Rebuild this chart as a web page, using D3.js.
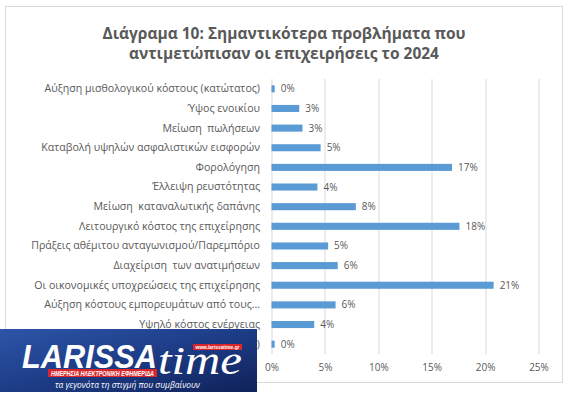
<!DOCTYPE html>
<html>
<head>
<meta charset="utf-8">
<script src="https://cdn.jsdelivr.net/npm/d3@7"></script>
<style>
  html, body { margin: 0; padding: 0; background: #fff; }
  svg { display: block; }
</style>
</head>
<body>
<div id="chart"></div>
<script>
// data (percent)
const categories = [
  'Αύξηση μισθολογικού κόστους (κατώτατος)',
  'Ύψος ενοικίου',
  'Μείωση  πωλήσεων',
  'Καταβολή υψηλών ασφαλιστικών εισφορών',
  'Φορολόγηση',
  'Έλλειψη ρευστότητας',
  'Μείωση  καταναλωτικής δαπάνης',
  'Λειτουργικό κόστος της επιχείρησης',
  'Πράξεις αθέμιτου ανταγωνισμού/Παρεμπόριο',
  'Διαχείριση  των ανατιμήσεων',
  'Οι οικονομικές υποχρεώσεις της επιχείρησης',
  'Αύξηση κόστους εμπορευμάτων από τους…',
  'Υψηλό κόστος ενέργειας',
  'Άλλο (διευκρινίστε)'
];
const values = [0.3, 2.6, 2.9, 4.6, 16.9, 4.3, 7.9, 17.6, 5.3, 6.2, 20.8, 6.0, 4.0, 0.3];
const xTicks = [0, 5, 10, 15, 20, 25];
const titleLines = ['Διάγραμα 10: Σημαντικότερα προβλήματα που', 'αντιμετώπισαν οι επιχειρήσεις το 2024'];

const W = 569, H = 397;
const margin = { top: 79, right: 30, bottom: 43, left: 271.5 };
const width = 538.5 - margin.left;
const height = 354 - margin.top;
const textColor = '#595959';
const font = "'Open Sans', sans-serif";

const svg = d3.select('#chart').append('svg')
  .attr('width', W)
  .attr('height', H);

svg.append('rect').attr('width', W).attr('height', H).attr('fill', '#fff');

// chart frame
svg.append('rect')
  .attr('x', 5.5).attr('y', 6.5)
  .attr('width', 557).attr('height', 376)
  .attr('fill', 'none')
  .attr('stroke', '#d9d9d9');

// title
svg.append('g')
  .selectAll('text')
  .data(titleLines)
  .join('text')
    .attr('x', 284)
    .attr('y', (d, i) => 39 + i * 20)
    .attr('text-anchor', 'middle')
    .attr('fill', textColor)
    .style('font-family', font)
    .style('font-size', '15.5px')
    .style('font-weight', 'bold')
    .text(d => d);

const g = svg.append('g')
  .attr('transform', `translate(${margin.left},${margin.top})`);

const x = d3.scaleLinear().domain([0, 25]).range([0, width]);
const y = d3.scaleBand().domain(categories).range([0, height]).paddingInner(0.64).paddingOuter(0.32);

// gridlines
g.append('g')
  .selectAll('line')
  .data(xTicks)
  .join('line')
    .attr('x1', d => Math.round(x(d)) + 0.5)
    .attr('x2', d => Math.round(x(d)) + 0.5)
    .attr('y1', 0)
    .attr('y2', height)
    .attr('stroke', '#d9d9d9');

// x axis labels
const xAxis = g.append('g')
  .attr('transform', `translate(0,${height})`)
  .call(d3.axisBottom(x).tickValues(xTicks).tickSize(0).tickPadding(10).tickFormat(d => d + '%'));
xAxis.select('.domain').remove();
xAxis.selectAll('text')
  .attr('fill', textColor)
  .style('font-family', font)
  .style('font-size', '10px');

// y axis labels
const yAxis = g.append('g')
  .call(d3.axisLeft(y).tickSize(0).tickPadding(11.5));
yAxis.select('.domain').remove();
yAxis.selectAll('text')
  .attr('fill', textColor)
  .style('font-family', font)
  .style('font-size', '10.6px')
  .style('white-space', 'pre');

// bars
g.selectAll('rect.bar')
  .data(values)
  .join('rect')
    .attr('class', 'bar')
    .attr('x', 0)
    .attr('y', (d, i) => y(categories[i]))
    .attr('width', d => x(d))
    .attr('height', y.bandwidth())
    .attr('fill', '#5b9bd5');

// data labels
g.selectAll('text.val')
  .data(values)
  .join('text')
    .attr('class', 'val')
    .attr('x', d => x(d) + 6)
    .attr('y', (d, i) => y(categories[i]) + y.bandwidth() / 2)
    .attr('dy', '0.35em')
    .attr('fill', textColor)
    .style('font-family', font)
    .style('font-size', '10px')
    .text(d => Math.round(d) + '%');

// watermark logo
const defs = svg.append('defs');
const grad = defs.append('linearGradient').attr('id', 'logoGrad')
  .attr('x1', '0').attr('y1', '0').attr('x2', '1').attr('y2', '1');
grad.append('stop').attr('offset', '0').attr('stop-color', '#2d55a8');
grad.append('stop').attr('offset', '0.5').attr('stop-color', '#1d3c86');
grad.append('stop').attr('offset', '1').attr('stop-color', '#0f2259');

const logo = svg.append('g').attr('transform', 'translate(0,329)');
logo.append('rect').attr('width', 257).attr('height', 63).attr('fill', 'url(#logoGrad)');
logo.append('text')
  .attr('x', 22).attr('y', 39)
  .attr('textLength', 135).attr('lengthAdjust', 'spacingAndGlyphs')
  .attr('fill', '#fff')
  .style('font-family', "'Liberation Sans', sans-serif")
  .style('font-size', '34px')
  .style('font-weight', 'bold')
  .style('font-style', 'italic')
  .text('LARISSA');
logo.append('text')
  .attr('x', 158).attr('y', 45)
  .attr('textLength', 84).attr('lengthAdjust', 'spacingAndGlyphs')
  .attr('fill', '#fff')
  .style('font-family', "'Liberation Serif', serif")
  .style('font-size', '40px')
  .style('font-style', 'italic')
  .text('time');
logo.append('rect').attr('x', 193).attr('y', 15).attr('width', 49).attr('height', 6).attr('fill', '#d9262b');
logo.append('text')
  .attr('x', 217.5).attr('y', 20)
  .attr('text-anchor', 'middle')
  .attr('textLength', 44).attr('lengthAdjust', 'spacingAndGlyphs')
  .attr('fill', '#fff')
  .style('font-family', "'Liberation Sans', sans-serif")
  .style('font-size', '5.5px')
  .style('font-weight', 'bold')
  .text('www.larissatime.gr');
logo.append('rect').attr('x', 48).attr('y', 40).attr('width', 109).attr('height', 8).attr('fill', '#d9262b');
logo.append('text')
  .attr('x', 51).attr('y', 46.5)
  .attr('textLength', 103).attr('lengthAdjust', 'spacingAndGlyphs')
  .attr('fill', '#fff')
  .style('font-family', "'Liberation Sans', sans-serif")
  .style('font-size', '6.5px')
  .style('font-weight', 'bold')
  .style('font-style', 'italic')
  .text('ΗΜΕΡΗΣΙΑ ΗΛΕΚΤΡΟΝΙΚΗ ΕΦΗΜΕΡΙΔΑ');
logo.append('text')
  .attr('x', 55).attr('y', 59)
  .attr('textLength', 145).attr('lengthAdjust', 'spacingAndGlyphs')
  .attr('fill', '#fff')
  .style('font-family', "'Open Sans', sans-serif")
  .style('font-size', '9px')
  .style('font-style', 'italic')
  .text('τα γεγονότα τη στιγμή που συμβαίνουν');
</script>
</body>
</html>
